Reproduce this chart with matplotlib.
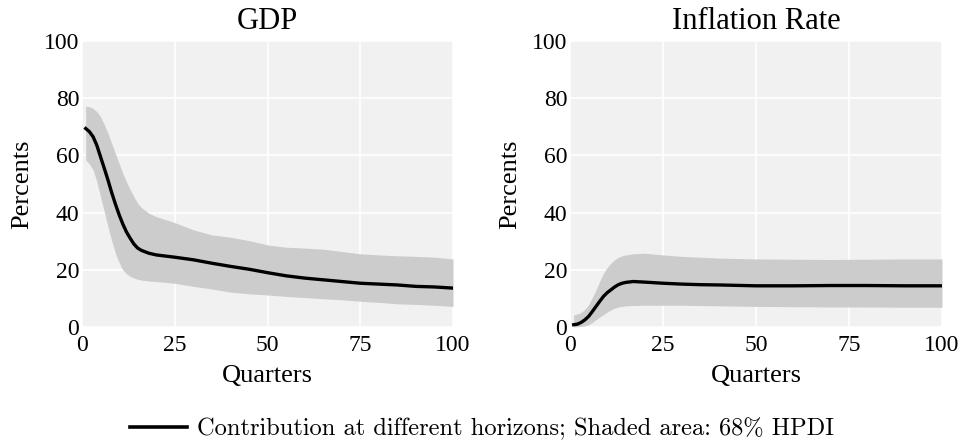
import matplotlib
matplotlib.use("Agg")
import matplotlib.pyplot as plt
from matplotlib.lines import Line2D

# horizons (quarters) at which the contributions were read
gdp_q = [1, 2, 3, 4, 5, 6, 7, 8, 9, 10, 11, 12, 13, 14, 15, 16, 18, 20, 25, 30, 35,
         40, 45, 50, 55, 60, 65, 70, 75, 80, 85, 90, 95, 100]
gdp_mid = [69.4, 68.3, 66.5, 63.5, 59.5, 55.5, 51.4, 47.0, 43.0, 39.3, 36.0, 33.2, 31.0,
           29.0, 27.6, 26.8, 25.8, 25.2, 24.4, 23.5, 22.3, 21.2, 20.2, 19.0, 17.9, 17.1,
           16.5, 15.9, 15.3, 15.0, 14.7, 14.2, 14.0, 13.6]
gdp_hi = [77.2, 77.0, 76.4, 75.3, 73.5, 70.8, 67.7, 64.2, 60.7, 57.2, 53.7, 50.7, 48.0,
          45.5, 43.3, 41.8, 39.8, 38.6, 36.5, 34.0, 32.2, 31.4, 30.2, 28.7, 27.9, 27.6,
          27.2, 26.4, 25.6, 25.2, 24.9, 24.7, 24.4, 23.8]
gdp_lo = [58.4, 57.0, 54.9, 50.8, 45.6, 40.3, 35.1, 30.2, 25.8, 22.5, 20.0, 18.6, 17.7,
          17.1, 16.7, 16.4, 16.1, 15.9, 15.3, 14.2, 13.3, 12.2, 11.6, 11.2, 10.7, 10.3,
          9.9, 9.5, 9.0, 8.6, 8.1, 7.9, 7.6, 7.2]

inf_q = [1, 2, 3, 4, 5, 6, 7, 8, 9, 10, 11, 12, 13, 14, 15, 17, 20, 25, 30, 35, 40, 50,
         60, 70, 80, 90, 100]
inf_mid = [0.8, 1.0, 1.6, 2.5, 3.7, 5.4, 7.2, 9.0, 10.7, 12.0, 13.0, 14.0, 14.8, 15.3,
           15.6, 15.9, 15.7, 15.3, 15.0, 14.8, 14.7, 14.4, 14.4, 14.5, 14.5, 14.4, 14.4]
inf_hi = [4.3, 4.5, 5.1, 6.2, 7.8, 10.3, 13.0, 16.0, 18.8, 20.8, 22.3, 23.5, 24.4, 24.9,
          25.2, 25.6, 25.8, 25.2, 24.7, 24.4, 24.1, 23.8, 23.7, 23.6, 23.7, 23.8, 23.8]
inf_lo = [0.0, 0.1, 0.2, 0.4, 0.8, 1.6, 2.6, 3.5, 4.3, 5.2, 6.0, 6.6, 7.0, 7.2, 7.4,
          7.5, 7.6, 7.6, 7.6, 7.5, 7.4, 7.2, 7.1, 7.0, 7.0, 6.9, 6.9]

titles = ["GDP", "Inflation Rate"]
ticks_x = [0, 25, 50, 75, 100]
ticks_y = [0, 20, 40, 60, 80, 100]

serif = "Liberation Serif"

fig = plt.figure(figsize=(9.6, 4.44), dpi=100)
ax1 = fig.add_axes([82 / 960, 1 - 327 / 444, 371 / 960, 286 / 444])
ax2 = fig.add_axes([570 / 960, 1 - 327 / 444, 372 / 960, 286 / 444])

panels = [(ax1, gdp_q, gdp_mid, gdp_lo, gdp_hi), (ax2, inf_q, inf_mid, inf_lo, inf_hi)]
for (ax, q, mid, lo, hi), title in zip(panels, titles):
    ax.set_facecolor("#f1f1f1")
    ax.fill_between(q, lo, hi, color="#cccccc", lw=0, zorder=2)
    ax.plot(q, mid, color="black", lw=2.4, zorder=3)
    ax.set_xlim(0, 100)
    ax.set_ylim(0, 100)
    ax.set_xticks(ticks_x)
    ax.set_yticks(ticks_y)
    ax.grid(True, color="white", lw=1.2, zorder=1)
    ax.set_axisbelow(True)
    for s in ax.spines.values():
        s.set_visible(False)
    ax.tick_params(length=0, labelsize=17)
    ax.tick_params(axis="x", pad=6)
    ax.tick_params(axis="y", pad=2)
    for lab in ax.get_xticklabels() + ax.get_yticklabels():
        lab.set_fontfamily(serif)
    ax.set_title(title, fontfamily=serif, fontsize=22, pad=9)
    ax.set_xlabel("Quarters", fontfamily=serif, fontsize=19, labelpad=6)
    ax.set_ylabel("Percents", fontfamily=serif, fontsize=19, labelpad=8)

handle = Line2D([], [], color="black", lw=2.6)
fig.legend([handle], ["Contribution at different horizons; Shaded area: 68% HPDI"],
           loc="center", bbox_to_anchor=(0.502, 1 - 429 / 444), frameon=False,
           prop={"family": "cmr10", "size": 17.6}, handlelength=2.33, handletextpad=0.4)

fig.savefig("out.png", dpi=100)
